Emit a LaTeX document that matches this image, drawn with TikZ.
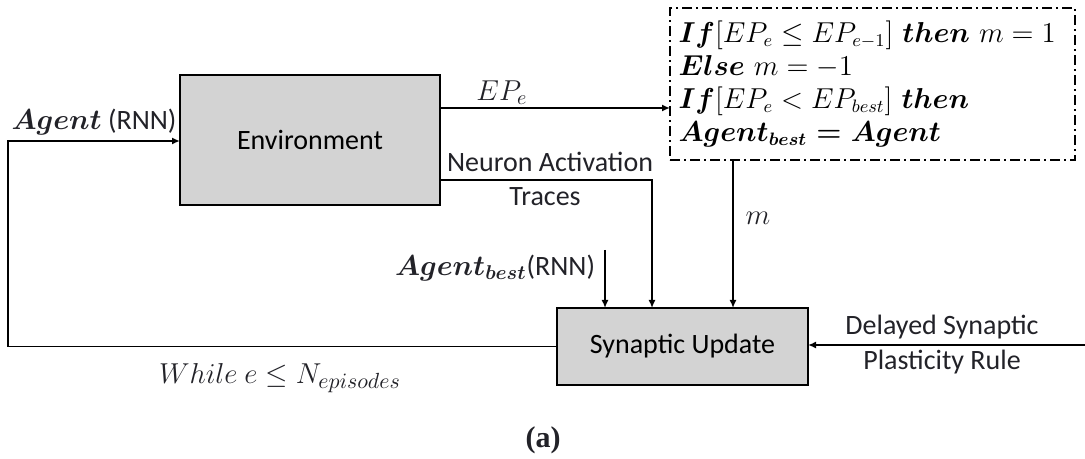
\documentclass[tikz,border=0pt]{standalone}
\usepackage{amsmath}
\usepackage{fontspec}
\setmainfont{Carlito}
\newfontfamily\capfont{Liberation Serif}
\usetikzlibrary{arrows.meta}
\definecolor{boxgray}{RGB}{211,211,211}
\definecolor{txt}{RGB}{34,34,40}
\begin{document}
\begin{tikzpicture}[x=0.5pt,y=-0.5pt,
    block/.style={draw, fill=boxgray, line width=0.9pt, outer sep=0pt},
    arr/.style={-{Latex[length=4pt,width=3.5pt]}, line width=0.8pt},
    lbl/.style={text=txt, inner sep=1pt},
    font=\fontsize{14}{17}\selectfont]
    \useasboundingbox (0,0) rectangle (1085,459);
    % boxes
    \node [block, minimum width=130pt, minimum height=65pt] (env) at (310,140) {Environment};
    \node [block, minimum width=125.5pt, minimum height=38.5pt] (syn) at (682.5,346.5) {Synaptic Update};
    \node [draw, line width=0.8pt, dash pattern=on 5pt off 2pt on 1pt off 2pt,
           minimum width=202.5pt, minimum height=76pt, align=left, text width=194pt,
           font=\fontsize{13.5}{16.5}\selectfont, outer sep=0pt] (cond) at (872.5,84)
        {$\boldsymbol{If}[EP_e \le EP_{e-1}]\ \boldsymbol{then}\ m = 1$\\
         $\boldsymbol{Else}\ m = -1$\\
         $\boldsymbol{If}[EP_e < EP_{best}]\ \boldsymbol{then}$\\
         $\boldsymbol{Agent_{best} = Agent}$};
    % helper points
    \coordinate (lbot) at (8,346.5);
    \coordinate (ltop) at (8,141);
    \coordinate (epy) at (0,108);
    \coordinate (trc) at (652,180);
    \coordinate (mx) at (733,0);
    \coordinate (bst) at (605,250);
    \coordinate (dsp) at (1085,345);
    % connectors
    \draw [arr] (syn.west) -- (lbot) -- (ltop) -- (ltop -| env.west);
    \draw [arr] (env.east |- epy) -- (cond.west |- epy);
    \draw [arr] (env.east |- trc) -- (trc) -- (trc |- syn.north);
    \draw [arr] (cond.south -| mx) -- (mx |- syn.north);
    \draw [arr] (bst) -- (bst |- syn.north);
    \draw [arr] (dsp) -- (dsp -| syn.east);
    % labels
    \node [lbl] (tagent) at (94,122) {$\boldsymbol{Agent}$ (RNN)};
    \node [lbl] (tep) at (502,93) {$EP_e$};
    \node [lbl] (tneur) at (550,162) {Neuron Activation};
    \node [lbl] (ttrac) at (545,197) {Traces};
    \node [lbl, font=\fontsize{15}{17}\selectfont] (tm) at (758,218) {$m$};
    \node [lbl] (tbest) at (495,268) {$\boldsymbol{Agent_{best}}$(RNN)};
    \node [lbl] (tdel) at (942,327) {Delayed Synaptic};
    \node [lbl] (tpla) at (942,362) {Plasticity Rule};
    \node [lbl, font=\fontsize{15}{17}\selectfont] (twhile) at (280,378) {$While\ e \le N_{episodes}$};
    \node [lbl, font=\capfont\bfseries\fontsize{15}{17}\selectfont] (tcap) at (543,440) {(a)};
\end{tikzpicture}
\end{document}
